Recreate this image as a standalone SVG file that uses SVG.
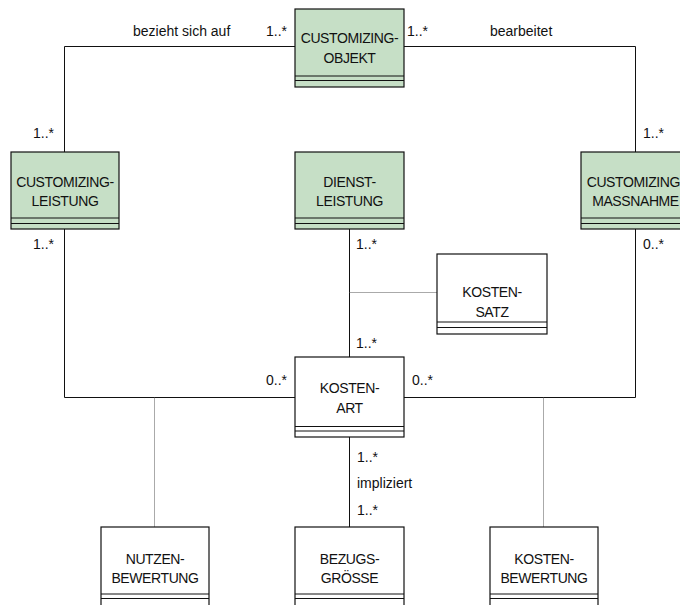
<svg xmlns="http://www.w3.org/2000/svg" width="680" height="605" viewBox="0 0 680 605">
<style>
text{font-family:"Liberation Sans",Arial,sans-serif;font-size:14px;fill:#111}
.t{text-anchor:middle;letter-spacing:-0.4px}
.box{stroke:#111;stroke-width:1.2}
.g{fill:#c6dfc6}
.w{fill:#fff}
.ln{stroke:#111;stroke-width:1;fill:none}
.dot{stroke:#555;stroke-width:1;stroke-dasharray:1 1;fill:none}
</style>
<rect width="680" height="605" fill="#fff"/>
<g id="connectors">
<polyline class="ln" points="295,46.5 64.5,46.5 64.5,152"/>
<polyline class="ln" points="404,46.5 635.5,46.5 635.5,152"/>
<polyline class="ln" points="64.5,229 64.5,397.5 295,397.5"/>
<polyline class="ln" points="635.5,229 635.5,397.5 404,397.5"/>
<line class="ln" x1="349.5" y1="229" x2="349.5" y2="357"/>
<line class="ln" x1="349.5" y1="437" x2="349.5" y2="527"/>
<line class="dot" x1="349.5" y1="292.5" x2="437" y2="292.5"/>
<line class="dot" x1="154.5" y1="397.5" x2="154.5" y2="527"/>
<line class="dot" x1="543.5" y1="397.5" x2="543.5" y2="527"/>
<text x="133" y="36">bezieht sich auf</text>
<text x="266" y="36">1..*</text>
<text x="407" y="36">1..*</text>
<text x="490" y="36">bearbeitet</text>
<text x="33" y="138">1..*</text>
<text x="643" y="138">1..*</text>
<text x="33" y="249">1..*</text>
<text x="643" y="249">0..*</text>
<text x="356" y="249">1..*</text>
<text x="356" y="348">1..*</text>
<text x="266" y="385">0..*</text>
<text x="412" y="385">0..*</text>
<text x="357" y="462">1..*</text>
<text x="357" y="488">impliziert</text>
<text x="357" y="515">1..*</text>
</g>
<g id="customizing-objekt">
<rect class="box g" x="295" y="9" width="109" height="78"/>
<line class="ln" x1="295" y1="76" x2="404" y2="76"/><line class="ln" x1="295" y1="80.5" x2="404" y2="80.5"/>
<text class="t" x="349.5" y="43">CUSTOMIZING-</text><text class="t" x="349.5" y="63">OBJEKT</text>
</g>
<g id="customizing-leistung">
<rect class="box g" x="11" y="152" width="108" height="77"/>
<line class="ln" x1="11" y1="218" x2="119" y2="218"/><line class="ln" x1="11" y1="223.5" x2="119" y2="223.5"/>
<text class="t" x="65" y="187">CUSTOMIZING-</text><text class="t" x="65" y="206">LEISTUNG</text>
</g>
<g id="dienstleistung">
<rect class="box g" x="295" y="152" width="109" height="77"/>
<line class="ln" x1="295" y1="218" x2="404" y2="218"/><line class="ln" x1="295" y1="223.5" x2="404" y2="223.5"/>
<text class="t" x="349.5" y="187">DIENST-</text><text class="t" x="349.5" y="206">LEISTUNG</text>
</g>
<g id="customizing-massnahme">
<rect class="box g" x="581" y="152" width="109" height="77"/>
<line class="ln" x1="581" y1="218" x2="690" y2="218"/><line class="ln" x1="581" y1="223.5" x2="690" y2="223.5"/>
<text class="t" x="635.5" y="187">CUSTOMIZING-</text><text class="t" x="635.5" y="206">MASSNAHME</text>
</g>
<g id="kostensatz">
<rect class="box w" x="437" y="254" width="110" height="80"/>
<line class="ln" x1="437" y1="322" x2="547" y2="322"/><line class="ln" x1="437" y1="327.5" x2="547" y2="327.5"/>
<text class="t" x="492" y="297">KOSTEN-</text><text class="t" x="492" y="317">SATZ</text>
</g>
<g id="kostenart">
<rect class="box w" x="295" y="357" width="109" height="80"/>
<line class="ln" x1="295" y1="426.5" x2="404" y2="426.5"/><line class="ln" x1="295" y1="431" x2="404" y2="431"/>
<text class="t" x="349.5" y="393">KOSTEN-</text><text class="t" x="349.5" y="413">ART</text>
</g>
<g id="nutzenbewertung">
<rect class="box w" x="101" y="527" width="108" height="90"/>
<line class="ln" x1="101" y1="594" x2="209" y2="594"/><line class="ln" x1="101" y1="598.5" x2="209" y2="598.5"/>
<text class="t" x="155" y="564">NUTZEN-</text><text class="t" x="155" y="583">BEWERTUNG</text>
</g>
<g id="bezugsgroesse">
<rect class="box w" x="295" y="527" width="109" height="90"/>
<line class="ln" x1="295" y1="594" x2="404" y2="594"/><line class="ln" x1="295" y1="598.5" x2="404" y2="598.5"/>
<text class="t" x="349.5" y="564">BEZUGS-</text><text class="t" x="349.5" y="583">GRÖSSE</text>
</g>
<g id="kostenbewertung">
<rect class="box w" x="490" y="527" width="108" height="90"/>
<line class="ln" x1="490" y1="594" x2="598" y2="594"/><line class="ln" x1="490" y1="598.5" x2="598" y2="598.5"/>
<text class="t" x="544" y="564">KOSTEN-</text><text class="t" x="544" y="583">BEWERTUNG</text>
</g>
</svg>
